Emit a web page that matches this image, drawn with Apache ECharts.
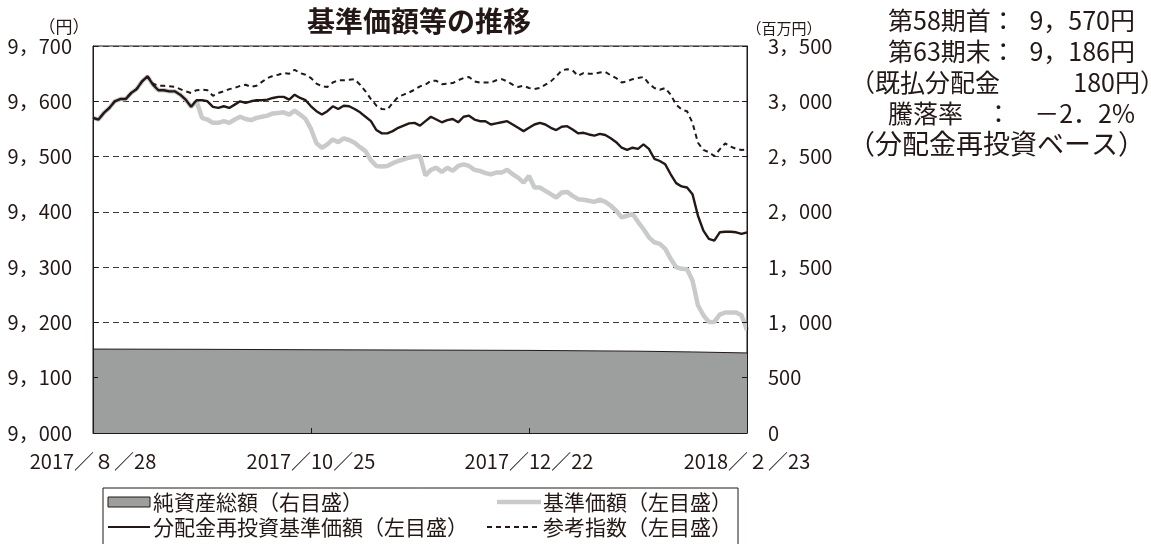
<!DOCTYPE html>
<html>
<head>
<meta charset="utf-8">
<script src="https://cdn.jsdelivr.net/npm/echarts@6/dist/echarts.min.js"></script>
<style>
html, body { margin: 0; padding: 0; background: #fff; }
#chart { width: 1151px; height: 544px; }
</style>
</head>
<body>
<div id="chart"></div>
<script>
// x: business-day index from 2017/8/28 (0) to 2018/2/23 (120)
const xTickValues = [0, 40, 80, 120];
const xTickLabels = ["2017／８／28", "2017／10／25", "2017／12／22", "2018／２／23"];

// 分配金再投資基準価額
const reinvested = [
  9570, 9567, 9579, 9588, 9600, 9604, 9604, 9615, 9622, 9636,
  9645, 9630, 9620, 9620, 9618, 9618, 9612, 9603, 9590, 9602,
  9602, 9600, 9590, 9588, 9591, 9588, 9594, 9600, 9597, 9600,
  9602, 9602, 9603, 9606, 9608, 9608, 9603, 9612, 9606, 9602,
  9591, 9582, 9576, 9582, 9591, 9586, 9592, 9591, 9586, 9580,
  9572, 9564, 9548, 9542, 9542, 9546, 9552, 9556, 9560, 9561,
  9556, 9564, 9572, 9567, 9562, 9566, 9568, 9562, 9572, 9574,
  9567, 9564, 9564, 9558, 9560, 9562, 9564, 9558, 9552, 9546,
  9552, 9558, 9561, 9558, 9552, 9548, 9554, 9555, 9549, 9542,
  9543, 9540, 9538, 9541, 9539, 9533, 9526, 9516, 9512, 9516,
  9514, 9522, 9514, 9496, 9492, 9486, 9468, 9452, 9446, 9444,
  9432, 9393, 9366, 9351, 9348, 9363, 9364, 9364, 9363, 9360,
  9363
];

// 基準価額
const navPrice = [
  9570, 9567, 9579, 9588, 9600, 9604, 9604, 9615, 9622, 9636,
  9645, 9630, 9620, 9620, 9618, 9618, 9612, 9603, 9590, 9600,
  9570, 9567, 9561, 9561, 9564, 9561, 9567, 9572, 9568, 9566,
  9570, 9572, 9574, 9578, 9579, 9580, 9576, 9583, 9576, 9568,
  9550, 9524, 9516, 9522, 9531, 9526, 9533, 9530, 9525, 9517,
  9510, 9493, 9483, 9482, 9483, 9488, 9492, 9495, 9498, 9500,
  9501, 9466, 9476, 9480, 9472, 9480, 9474, 9483, 9486, 9483,
  9476, 9474, 9470, 9468, 9471, 9471, 9476, 9468, 9462, 9453,
  9465, 9444, 9444, 9438, 9432, 9426, 9435, 9436, 9429, 9423,
  9422, 9420, 9418, 9422, 9418, 9411, 9402, 9390, 9393, 9396,
  9382, 9369, 9354, 9345, 9342, 9333, 9315, 9300, 9297, 9296,
  9276, 9231, 9213, 9201, 9201, 9214, 9218, 9218, 9218, 9213,
  9186
];

// 参考指数
const refIndex = [
  9570, 9567, 9579, 9588, 9600, 9604, 9604, 9615, 9622, 9636,
  9645, 9632, 9628, 9628, 9627, 9626, 9622, 9618, 9615, 9620,
  9621, 9620, 9610, 9615, 9618, 9622, 9624, 9628, 9630, 9626,
  9628, 9635, 9642, 9646, 9648, 9651, 9650, 9657, 9651, 9648,
  9642, 9632, 9627, 9626, 9634, 9638, 9638, 9639, 9640, 9630,
  9618, 9604, 9592, 9586, 9585, 9597, 9608, 9612, 9616, 9621,
  9627, 9630, 9637, 9637, 9631, 9632, 9633, 9638, 9642, 9644,
  9636, 9634, 9634, 9634, 9638, 9640, 9636, 9630, 9626, 9628,
  9624, 9622, 9624, 9630, 9636, 9645, 9656, 9658, 9656, 9646,
  9651, 9650, 9650, 9652, 9653, 9647, 9642, 9634, 9636, 9640,
  9642, 9644, 9632, 9624, 9621, 9624, 9612, 9594, 9585, 9582,
  9561, 9525, 9512, 9508, 9501, 9513, 9524, 9518, 9514, 9512,
  9513
];

// 純資産総額 (百万円)
const netAssetsX = [0, 20, 40, 60, 80, 100, 110, 120];
const netAssets = [759, 757, 753, 750, 747, 740, 733, 724];

const ink = "#231815";
const numFont = "'Noto Sans CJK JP', sans-serif";
const jpFont = "'Noto Sans CJK JP', sans-serif";

const fmtNum = v => v >= 1000 ? Math.floor(v / 1000) + "，" + String(v % 1000).padStart(3, "0") : String(v);

const text = (x, y, str, size, align, family, weight) => ({
  type: "text",
  x: x,
  y: y,
  style: {
    text: str,
    fill: ink,
    font: (weight || "normal") + " " + size + "px " + (family || numFont),
    textAlign: align || "left",
    textVerticalAlign: "middle"
  }
});

const chart = echarts.init(document.getElementById("chart"));

const option = {
  animation: false,
  grid: {
    left: 93,
    top: 46,
    width: 654,
    height: 387,
    show: true,
    borderColor: ink,
    borderWidth: 1
  },
  xAxis: {
    type: "value",
    min: 0,
    max: 120,
    interval: 40,
    z: 5,
    axisLine: { show: true, lineStyle: { color: ink, width: 1 } },
    axisTick: { show: true, inside: true, length: 5, lineStyle: { color: ink } },
    splitLine: { show: false },
    axisLabel: {
      color: ink,
      fontSize: 20,
      fontFamily: numFont,
      margin: 18,
      formatter: v => {
        const k = xTickValues.indexOf(v);
        return k >= 0 ? xTickLabels[k] : "";
      }
    }
  },
  yAxis: [
    {
      type: "value",
      position: "left",
      min: 9000,
      max: 9700,
      interval: 100,
      z: 5,
      axisLine: { show: true, lineStyle: { color: ink, width: 1 } },
      axisTick: { show: true, inside: true, length: 5, lineStyle: { color: ink } },
      splitLine: { show: false },
      axisLabel: { color: ink, fontSize: 20, fontFamily: numFont, margin: 21, formatter: fmtNum }
    },
    {
      type: "value",
      position: "right",
      min: 0,
      max: 3500,
      interval: 500,
      z: 5,
      axisLine: { show: true, lineStyle: { color: ink, width: 1 } },
      axisTick: { show: true, inside: true, length: 5, lineStyle: { color: ink } },
      splitLine: { show: false },
      axisLabel: { color: ink, fontSize: 20, fontFamily: numFont, margin: 21, formatter: fmtNum }
    },
    {
      type: "value",
      position: "left",
      min: 9000,
      max: 9700,
      interval: 100,
      z: 0,
      axisLine: { show: false },
      axisTick: { show: false },
      axisLabel: { show: false },
      splitLine: { show: true, lineStyle: { color: "#3e3a39", width: 1, type: [6, 4] } }
    }
  ],
  series: [
    {
      name: "純資産総額",
      type: "line",
      yAxisIndex: 1,
      z: 1,
      symbol: "none",
      data: netAssets.map((v, i) => [netAssetsX[i], v]),
      lineStyle: { color: ink, width: 1 },
      areaStyle: { color: "#9d9e9e", opacity: 1 }
    },
    {
      name: "基準価額",
      type: "line",
      yAxisIndex: 0,
      z: 2,
      symbol: "none",
      data: navPrice.map((v, i) => [i, v]),
      lineStyle: { color: "#c9caca", width: 4.5 }
    },
    {
      name: "参考指数",
      type: "line",
      yAxisIndex: 0,
      z: 3,
      symbol: "none",
      data: refIndex.map((v, i) => [i, v]),
      lineStyle: { color: ink, width: 2, type: [5, 4] }
    },
    {
      name: "分配金再投資基準価額",
      type: "line",
      yAxisIndex: 0,
      z: 4,
      symbol: "none",
      data: reinvested.map((v, i) => [i, v]),
      lineStyle: { color: ink, width: 2.4 }
    }
  ],
  graphic: [
    text(419, 21, "基準価額等の推移", 28, "center", jpFont, "bold"),
    text(64, 27, "（円）", 17, "center", jpFont),
    text(784, 28, "（百万円）", 15, "center", jpFont),

    text(888, 20, "第58期首：", 25, "left"),
    text(1135, 20, "9，570円", 25, "right"),
    text(888, 51, "第63期末：", 25, "left"),
    text(1135, 51, "9，186円", 25, "right"),
    text(850, 82, "（既払分配金", 25, "left"),
    text(1165, 82, "180円）", 25, "right"),
    text(888, 113, "騰落率", 25, "left"),
    text(986, 113, "：", 25, "left"),
    text(1135, 113, "－2．2%", 25, "right"),
    text(848, 144, "（分配金再投資ベース）", 27, "left"),

    {
      type: "rect",
      shape: { x: 103, y: 488, width: 635, height: 70 },
      style: { fill: "#fff", stroke: ink, lineWidth: 1 }
    },
    {
      type: "rect",
      shape: { x: 108, y: 497, width: 42, height: 10 },
      style: { fill: "#9d9e9e", stroke: ink, lineWidth: 1 }
    },
    text(153, 502, "純資産総額（右目盛）", 21, "left", jpFont),
    {
      type: "line",
      shape: { x1: 497, y1: 502, x2: 541, y2: 502 },
      style: { stroke: "#c9caca", lineWidth: 4.5 }
    },
    text(543, 502, "基準価額（左目盛）", 21, "left", jpFont),
    {
      type: "line",
      shape: { x1: 108, y1: 527, x2: 150, y2: 527 },
      style: { stroke: ink, lineWidth: 2 }
    },
    text(153, 527, "分配金再投資基準価額（左目盛）", 21, "left", jpFont),
    {
      type: "line",
      shape: { x1: 487, y1: 527, x2: 541, y2: 527 },
      style: { stroke: ink, lineWidth: 2, lineDash: [5, 4] }
    },
    text(543, 527, "参考指数（左目盛）", 21, "left", jpFont)
  ]
};

chart.setOption(option);
</script>
</body>
</html>
